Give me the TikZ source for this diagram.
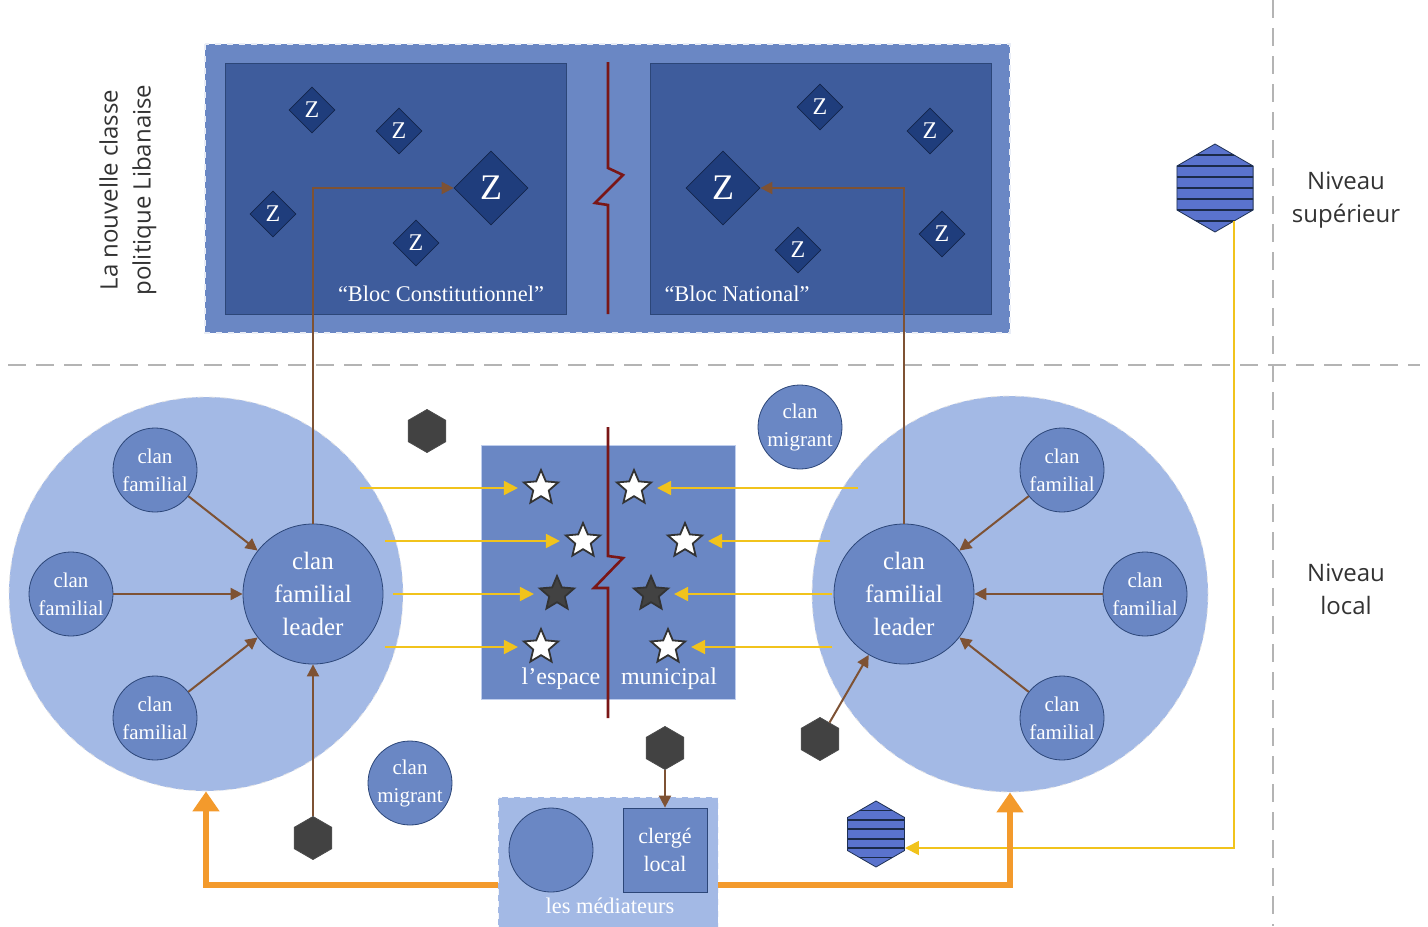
\documentclass[tikz,border=0pt]{standalone}
\usepackage{fontspec}
\setmainfont{Liberation Serif}
\newfontfamily\levelfont{Open Sans}
\usetikzlibrary{arrows.meta, calc, shapes.geometric}
\definecolor{paleblue}{RGB}{163,185,229}
\definecolor{midblue}{RGB}{106,135,196}
\definecolor{deepblue}{RGB}{62,92,156}
\definecolor{navyblue}{RGB}{31,61,124}
\definecolor{edgeblue}{RGB}{44,70,120}
\definecolor{breakred}{RGB}{122,22,22}
\definecolor{linkbrown}{RGB}{126,82,52}
\definecolor{linkyellow}{RGB}{241,195,28}
\definecolor{linkorange}{RGB}{243,154,44}
\definecolor{hexgray}{RGB}{66,66,66}
\definecolor{guidegray}{RGB}{180,180,180}
\definecolor{labelgray}{RGB}{51,51,51}

\begin{document}
\begin{tikzpicture}[x=0.5pt, y=-0.5pt,
    guide/.style={guidegray, line width=1.2pt, dash pattern=on 9pt off 5pt},
    clan/.style={circle, draw=edgeblue, fill=midblue, text=white, align=center,
      inner sep=0pt, minimum size=42pt, font=\fontsize{10.5}{14}\selectfont},
    leader/.style={clan, minimum size=70pt, font=\fontsize{12.5}{16.5}\selectfont},
    sphere/.style={circle, fill=paleblue, draw=white!80!gray, dashed, inner sep=0pt},
    zbox/.style={diamond, aspect=1, draw=navyblue!60!black, fill=navyblue, text=white,
      inner sep=0pt, minimum size=23pt, font=\fontsize{12}{12}\selectfont},
    bigz/.style={zbox, minimum size=37pt, font=\fontsize{18}{18}\selectfont},
    hexblock/.style={regular polygon, regular polygon sides=6, shape border rotate=90,
      draw=black!70, fill=hexgray, inner sep=0pt, minimum size=21.5pt},
    hexstriped/.style={hexblock, draw=edgeblue!70!black, fill=midblue!85!blue,
      path picture={\foreach \k in {1,...,#1}
        \draw[edgeblue!60!black, line width=0.9pt]
          ($(path picture bounding box.north west)!{\k/(#1+1)}!(path picture bounding box.south west)$) -- ++(300,0);}},
    starw/.style={star, star points=5, star point ratio=2.2, draw=black!80, line width=0.9pt,
      fill=white, inner sep=0pt, minimum size=18pt},
    stard/.style={starw, fill=hexgray},
    btext/.style={text=white, inner sep=1pt, font=\fontsize{11.2}{13}\selectfont},
    tierlabel/.style={text=labelgray, align=center, font=\levelfont\fontsize{12}{16.5}\selectfont},
    breakline/.style={draw=breakred, line width=1.3pt},
    brownlink/.style={draw=linkbrown, line width=1pt, -{Triangle[width=6pt,length=6pt]}},
    yellowlink/.style={draw=linkyellow, line width=0.9pt, shorten >=5.5pt, -{Triangle[width=7pt,length=7pt]}},
    orangelink/.style={draw=linkorange, line width=3.2pt, -{Triangle[width=13pt,length=10pt]}}
  ]
  \useasboundingbox (0,0) rectangle (1428,926);

  \draw[guide] (8,365) -- (1420,365);
  \draw[guide] (1273,0) -- (1273,926);

  \draw[fill=midblue, draw=white!85!midblue, dashed, thick] (205,44) rectangle (1010,333);
  \draw[fill=deepblue, draw=edgeblue] (225,63) rectangle (566,314);
  \draw[fill=deepblue, draw=edgeblue] (650,63) rectangle (991,314);
  \draw[breakline] (608,62) -- (608,168) -- (623,175) -- (595,203) -- (608,205) -- (608,314);

  \node[zbox] (zc1) at (312,110) {Z};
  \node[zbox] (zc2) at (399,131) {Z};
  \node[zbox] (zc3) at (273,214) {Z};
  \node[zbox] (zc4) at (416,243) {Z};
  \node[bigz] (zcon) at (491,188) {Z};
  \node[zbox] (zn1) at (820,107) {Z};
  \node[zbox] (zn2) at (930,131) {Z};
  \node[zbox] (zn3) at (798,250) {Z};
  \node[zbox] (zn4) at (942,234) {Z};
  \node[bigz] (znat) at (723,188) {Z};
  \node[btext] (blocC) at (441,294) {“Bloc Constitutionnel”};
  \node[btext] (blocN) at (737,294) {“Bloc National”};

  \node[tierlabel, rotate=90] (classe) at (128,190) {La nouvelle classe\\politique Libanaise};
  \node[tierlabel] (sup) at (1346,200) {Niveau\\supérieur};
  \node[tierlabel] (loc) at (1346,589) {Niveau\\local};

  \node[sphere, minimum size=197pt] (areaL) at (206,594) {};
  \node[sphere, minimum size=198pt] (areaR) at (1010,594) {};

  \node[draw=paleblue!70!white, fill=midblue, minimum size=127pt, inner sep=0pt] (muni) at (608,572) {};
  \draw[breakline] (608,427) -- (608,556) -- (623,558) -- (594,588) -- (608,588) -- (608,718);
  \node[btext, font=\fontsize{12}{14}\selectfont] (esp) at (561,679) {l’espace};
  \node[btext, font=\fontsize{12}{14}\selectfont] (mun) at (669,679) {municipal};

  \node[leader] (leadL) at (313,594) {clan\\familial\\leader};
  \node[clan] (clL1) at (155,470) {clan\\familial};
  \node[clan] (clL2) at (71,594) {clan\\familial};
  \node[clan] (clL3) at (155,718) {clan\\familial};
  \node[leader] (leadR) at (904,594) {clan\\familial\\leader};
  \node[clan] (clR1) at (1062,470) {clan\\familial};
  \node[clan] (clR2) at (1145,594) {clan\\familial};
  \node[clan] (clR3) at (1062,718) {clan\\familial};
  \node[clan] (migT) at (800,427) {clan\\migrant};
  \node[clan] (migB) at (410,783) {clan\\migrant};

  \node[starw] (sL1) at (541,488) {};
  \node[starw] (sL2) at (583,541) {};
  \node[stard] (sL3) at (557,594) {};
  \node[starw] (sL4) at (541,647) {};
  \node[starw] (sR1) at (634,488) {};
  \node[starw] (sR2) at (685,541) {};
  \node[stard] (sR3) at (651,594) {};
  \node[starw] (sR4) at (668,647) {};

  \node[hexblock] (hxTop) at (427,431) {};
  \node[hexblock] (hxLow) at (313,838) {};
  \node[hexblock] (hxMid) at (665,748) {};
  \node[hexblock] (hxRgt) at (820,739) {};
  \node[hexstriped=7, minimum size=44pt] (hxSup) at (1215,188) {};
  \node[hexstriped=6, minimum size=33pt] (hxLoc) at (876,834) {};

  \node[draw=white!85!paleblue, dashed, fill=paleblue, minimum width=110pt, minimum height=88pt] (med) at (608,885) {};
  \node[clan] (medC) at (551,850) {};
  \node[draw=edgeblue, fill=midblue, text=white, minimum size=42pt, inner sep=0pt, align=center,
    font=\fontsize{11}{14}\selectfont] (clerge) at (665,850) {clergé\\local};
  \node[btext] (medT) at (610,906) {les médiateurs};

  \draw[brownlink] (clL1) -- (leadL);
  \draw[brownlink] (clL2) -- (leadL);
  \draw[brownlink] (clL3) -- (leadL);
  \draw[brownlink] (clR1) -- (leadR);
  \draw[brownlink] (clR2) -- (leadR);
  \draw[brownlink] (clR3) -- (leadR);
  \draw[brownlink] (leadL.north) |- (zcon);
  \draw[brownlink] (leadR.north) |- (znat);
  \draw[brownlink] (hxLow) -- (leadL);
  \draw[brownlink] (hxRgt) -- (leadR);
  \draw[brownlink] (hxMid) -- (clerge);

  \coordinate (yL1) at (360,488);
  \coordinate (yL2) at (385,541);
  \coordinate (yL3) at (393,594);
  \coordinate (yL4) at (385,647);
  \coordinate (yR1) at (858,488);
  \coordinate (yR2) at (830,541);
  \coordinate (yR3) at (832,594);
  \coordinate (yR4) at (832,647);
  \draw[yellowlink] (yL1) -- (sL1);
  \draw[yellowlink] (yL2) -- (sL2);
  \draw[yellowlink] (yL3) -- (sL3);
  \draw[yellowlink] (yL4) -- (sL4);
  \draw[yellowlink] (yR1) -- (sR1);
  \draw[yellowlink] (yR2) -- (sR2);
  \draw[yellowlink] (yR3) -- (sR3);
  \draw[yellowlink] (yR4) -- (sR4);
  \draw[yellowlink, shorten >=0pt] (hxSup.-60) |- ($(hxLoc.east)+(0,14)$);

  \draw[orangelink] (med.west) -| (areaL);
  \draw[orangelink] (med.east) -| (areaR);
\end{tikzpicture}
\end{document}
